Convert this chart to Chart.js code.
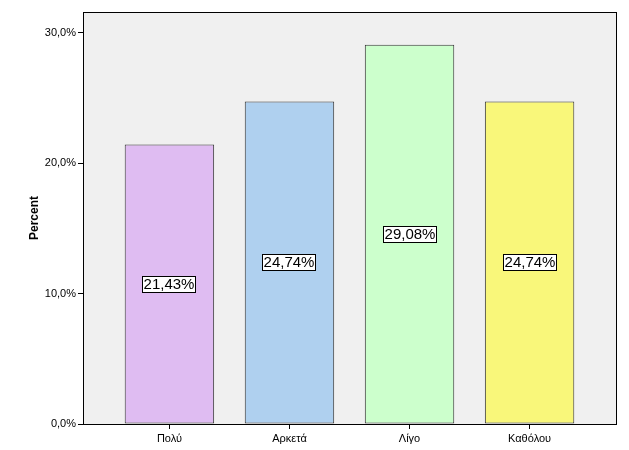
<!DOCTYPE html>
<html>
<head>
<meta charset="utf-8">
<script src="https://cdn.jsdelivr.net/npm/chart.js@4/dist/chart.umd.min.js"></script>
<style>
  html, body { margin: 0; padding: 0; background: #fff; }
  #wrap { width: 629px; height: 450px; }
</style>
</head>
<body>
<div id="wrap"><canvas id="chart" width="629" height="450"></canvas></div>
<script>
const categories = ['Πολύ', 'Αρκετά', 'Λίγο', 'Καθόλου'];
const percents = [21.43, 24.74, 29.08, 24.74];
const barColors = ['#dfbcf2', '#afd0ef', '#ccffcc', '#f9f77a'];
const yTicks = [0, 10, 20, 30];

const fmt = (v, d) => v.toFixed(d).replace('.', ',') + '%';

// grey plot background + black frame like SPSS
const frame = {
  id: 'frame',
  beforeDraw(chart) {
    const { ctx, chartArea: a } = chart;
    ctx.save();
    ctx.fillStyle = '#f0f0f0';
    ctx.fillRect(a.left, a.top, a.right - a.left, a.bottom - a.top);
    ctx.restore();
  },
  afterDraw(chart) {
    const { ctx, chartArea: a } = chart;
    ctx.save();
    ctx.strokeStyle = '#000';
    ctx.lineWidth = 1;
    ctx.strokeRect(a.left + 0.5, a.top + 0.5, a.right - a.left, a.bottom - a.top);
    ctx.restore();
  }
};

// boxed value labels in the middle of each bar
const boxLabels = {
  id: 'boxLabels',
  afterDatasetsDraw(chart) {
    const { ctx } = chart;
    const meta = chart.getDatasetMeta(0);
    ctx.save();
    ctx.font = '15px "Liberation Sans", Arial, sans-serif';
    ctx.textAlign = 'center';
    ctx.textBaseline = 'middle';
    meta.data.forEach((bar, i) => {
      const txt = fmt(percents[i], 2);
      const cx = Math.round(bar.x);
      const cy = Math.round((bar.y + bar.base) / 2);
      const w = Math.ceil(ctx.measureText(txt).width) + 3;
      const h = 17;
      const x0 = Math.round(cx - w / 2), y0 = Math.round(cy - h / 2);
      ctx.fillStyle = '#fff';
      ctx.fillRect(x0, y0, w, h);
      ctx.strokeStyle = '#000';
      ctx.lineWidth = 1;
      ctx.strokeRect(x0 + 0.5, y0 + 0.5, w - 1, h - 1);
      ctx.fillStyle = '#000';
      ctx.fillText(txt, cx, cy + 1);
    });
    ctx.restore();
  }
};

new Chart(document.getElementById('chart'), {
  type: 'bar',
  data: {
    datasets: [{
      data: percents.map((v, i) => ({ x: i + 1, y: v })),
      backgroundColor: barColors,
      borderColor: '#333333',
      borderWidth: 1,
      borderSkipped: false,
      barPercentage: 0.745,
      categoryPercentage: 1
    }]
  },
  options: {
    responsive: false,
    animation: false,
    layout: { padding: { top: 12, right: 13, left: 0, bottom: 0 } },
    plugins: { legend: { display: false }, tooltip: { enabled: false } },
    scales: {
      x: {
        type: 'linear',
        min: 0.28,
        max: 4.72,
        offset: false,
        afterBuildTicks: (s) => { s.ticks = categories.map((_, i) => ({ value: i + 1 })); },
        afterFit: (s) => { s.height = 26; },
        grid: { display: true, drawOnChartArea: false, drawTicks: true, tickLength: 5, color: '#000', offset: false },
        border: { display: true, color: '#000' },
        ticks: {
          autoSkip: false,
          maxRotation: 0,
          padding: 3,
          color: '#000',
          font: { family: '"Liberation Sans", Arial, sans-serif', size: 11 },
          callback: (v) => categories[v - 1] || ''
        }
      },
      y: {
        min: 0,
        max: 31.6,
        afterBuildTicks: (s) => { s.ticks = yTicks.map(v => ({ value: v })); },
        afterFit: (s) => { s.width = 83; },
        grid: { display: true, drawOnChartArea: false, drawTicks: true, tickLength: 5, color: '#000' },
        border: { display: true, color: '#000' },
        ticks: {
          padding: 2,
          color: '#000',
          font: { family: '"Liberation Sans", Arial, sans-serif', size: 11 },
          callback: (v) => fmt(v, 1)
        },
        title: {
          display: true,
          text: 'Percent',
          color: '#000',
          padding: { top: 27, bottom: 0 },
          font: { family: '"Liberation Sans", Arial, sans-serif', size: 12, weight: 'bold' }
        }
      }
    }
  },
  plugins: [frame, boxLabels]
});
</script>
</body>
</html>
